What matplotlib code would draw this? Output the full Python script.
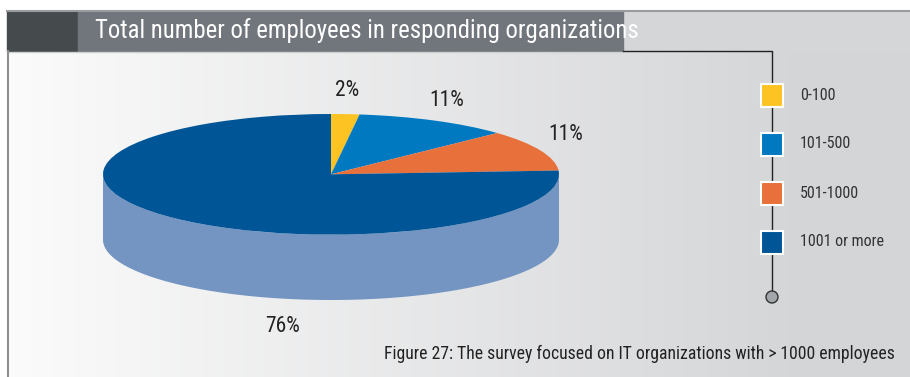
import numpy as np
import matplotlib
matplotlib.use("Agg")
import matplotlib.pyplot as plt
from matplotlib.patches import Rectangle, Circle, Polygon
from matplotlib import font_manager

# --- data -------------------------------------------------------------
categories = ["0-100", "101-500", "501-1000", "1001 or more"]
shares = [2, 11, 11, 76]
colors = ["#fdc323", "#0079c1", "#e8703b", "#005596"]
side_color = "#7495c2"
title = "Total number of employees in responding organizations"
caption = "Figure 27: The survey focused on IT organizations with > 1000 employees"

# --- fonts ------------------------------------------------------------
installed = {f.name for f in font_manager.fontManager.ttflist}
narrow = [f for f in ["Liberation Sans Narrow", "Arial Narrow", "Roboto Condensed",
                      "Open Sans Condensed"] if f in installed]
FAM = narrow + ["Liberation Sans", "DejaVu Sans"]
plt.rcParams["font.family"] = FAM

W, H = 910, 377
fig = plt.figure(figsize=(W / 100, H / 100), dpi=100)

# --- background / frame (pixel coordinates) ---------------------------
bg = fig.add_axes([0, 0, 1, 1])
bg.set_xlim(0, W)
bg.set_ylim(H, 0)
bg.axis("off")

grad = np.linspace(0, 1, 256)
left_c = np.array([0.985, 0.985, 0.985])
right_c = np.array([0.835, 0.839, 0.847])
ramp = np.clip(grad * 1.15, 0, 1)[None, :, None]
img = left_c * (1 - ramp) + right_c * ramp
bg.imshow(img, extent=[8, W, H, 11], aspect="auto", zorder=0)

# header band
bg.add_patch(Rectangle((W * 0.68, 11), W * 0.32, 40, color="#d5d6d8", zorder=1))
bg.add_patch(Rectangle((7, 11), 71, 40, color="#454b4d", zorder=2))
bg.add_patch(Rectangle((78, 11), 545, 40, color="#71767c", zorder=2))
bg.plot([7, W], [10.5, 10.5], color="#9a9c9f", lw=1.5, zorder=3)
bg.plot([8, 623], [51.5, 51.5], color="#cfd0d2", lw=1, zorder=3)
bg.plot([8, 8], [51, H], color="#8c8e91", lw=1.5, zorder=3)
bg.text(95, 31, title, color="white", fontsize=17.8, va="center", ha="left",
        zorder=4)

# connector line for the legend
bg.plot([623, 772, 772], [50.5, 50.5, 297], color="#222222", lw=1, zorder=3)
bg.add_patch(Circle((772, 297), 6, facecolor="#a3a6ab", edgecolor="#333333",
                    lw=1, zorder=5))

# legend
for i, (cat, col) in enumerate(zip(categories, colors)):
    yc = 95 + i * 49
    bg.add_patch(Rectangle((761, yc - 11.5), 22, 23, facecolor=col,
                           edgecolor="white", lw=1.5, zorder=5))
    bg.text(800, yc, cat, fontsize=11.5, color="#333333", va="center",
            ha="left", zorder=5)

bg.text(895, 354, caption, fontsize=12.7, color="#222222", va="center",
        ha="right", zorder=5)

# --- pie (elliptical, with cylinder side) -----------------------------
depth = 65 / 60.0  # side height in units of the minor radius
pax = fig.add_axes([103 / W, (H - 300) / H, 456 / W, 186 / H])
pax.set_zorder(1)
wedges, _ = pax.pie(shares, colors=colors, startangle=90, counterclock=False,
                    radius=1.0, wedgeprops=dict(linewidth=0))
pax.set_aspect("auto")
pax.set_xlim(-1, 1)
pax.set_ylim(-1 - depth, 1)
pax.axis("off")
pax.patch.set_alpha(0)

t = np.linspace(np.pi, 2 * np.pi, 200)
top = np.column_stack([np.cos(t), np.sin(t)])
bot = top[::-1] - np.array([0, depth])
pax.add_patch(Polygon(np.vstack([top, bot]), closed=True, facecolor=side_color,
                      edgecolor="none", zorder=0))
for w in wedges:
    w.set_zorder(2)

# percentage labels
label_pos = [(347, 90), (447, 100), (566, 134), (283, 326)]
for v, (x, y) in zip(shares, label_pos):
    bg.text(x, y, f"{v}%", fontsize=15.5, color="#222222", ha="center",
            va="center", zorder=6)

fig.savefig("out.png", dpi=100)
